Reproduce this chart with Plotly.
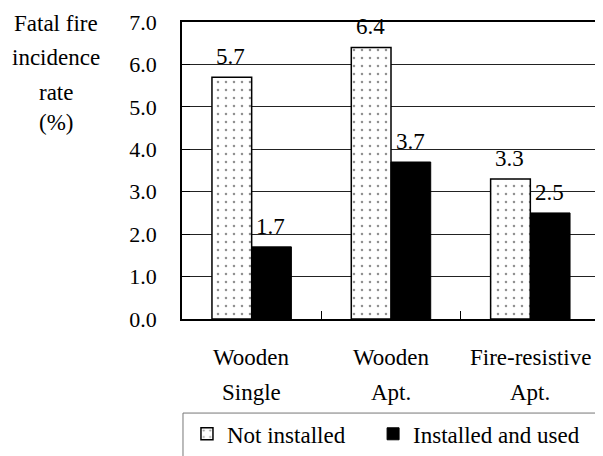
import plotly.graph_objects as go

# Data
categories = ["Wooden<br>Single", "Wooden<br>Apt.", "Fire-resistive<br>Apt."]
not_installed = [5.7, 6.4, 3.3]
installed_used = [1.7, 3.7, 2.5]

FONT = "'Liberation Serif', 'Times New Roman', Times, serif"
# the page body has an 8px margin, so the figure is drawn 8px in from the window corner
OFF = 8
W, H = 603 - OFF, 456 - OFF
L, R, T, B = 182 - OFF, 1, 22 - OFF, 456 - 322
plot_w = W - L - R
plot_h = H - T - B


def px_x(x):
    # window pixel -> paper fraction
    return (x - OFF - L) / plot_w


def px_y(y):
    return (H - B - (y - OFF)) / plot_h


fig = go.Figure()

fig.add_trace(go.Bar(
    x=categories,
    y=not_installed,
    name="Not installed",
    legend="legend",
    marker=dict(
        color="white",
        line=dict(color="black", width=1.5),
        pattern=dict(shape=".", fgcolor="#222222", bgcolor="white",
                     size=8, solidity=0.08),
    ),
))

fig.add_trace(go.Bar(
    x=categories,
    y=installed_used,
    name="Installed and used",
    legend="legend2",
    marker=dict(color="black", line=dict(color="black", width=1)),
))

annotations = []

# value labels above the bars (left bar of each group is shifted left, right bar right)
for values, shift in ((not_installed, -21), (installed_used, 19)):
    for cat, v in zip(categories, values):
        annotations.append(dict(
            text=f"{v:.1f}", xref="x", yref="y", x=cat, y=v,
            xshift=shift, yshift=6, xanchor="center", yanchor="bottom",
            showarrow=False, font=dict(family=FONT, size=23, color="black"),
        ))

# y axis title, one line per annotation
ytitle_lines = ["Fatal fire", "incidence", "rate", "(%)"]
ytitle_pix = [24, 58, 93, 124]
for line, yp in zip(ytitle_lines, ytitle_pix):
    annotations.append(dict(
        text=line, xref="paper", yref="paper", x=px_x(55), y=px_y(yp),
        xanchor="center", yanchor="middle", showarrow=False,
        font=dict(family=FONT, size=23, color="black"),
    ))

# category labels (two lines each)
for cat in categories:
    for i, part in enumerate(cat.split("<br>")):
        annotations.append(dict(
            text=part, xref="x", yref="paper", x=cat, y=px_y(361 + 35 * i),
            xanchor="center", yanchor="middle", showarrow=False,
            font=dict(family=FONT, size=23, color="black"),
        ))

legend_style = dict(
    orientation="h", xanchor="left", yanchor="middle", y=px_y(438),
    font=dict(family=FONT, size=23, color="black"),
    bgcolor="rgba(0,0,0,0)", borderwidth=0,
)

fig.update_layout(
    width=W, height=H, autosize=False,
    margin=dict(l=L, r=R, t=T, b=B, pad=0),
    paper_bgcolor="white", plot_bgcolor="white",
    font=dict(family=FONT, size=23, color="black"),
    barmode="group", bargap=0.43, bargroupgap=0,
    showlegend=True,
    legend=dict(x=px_x(187), **legend_style),
    legend2=dict(x=px_x(374), **legend_style),
    annotations=annotations,
    shapes=[dict(
        type="rect", xref="paper", yref="paper",
        x0=px_x(183), x1=px_x(615), y0=px_y(417), y1=px_y(470),
        line=dict(color="#777777", width=1), fillcolor="rgba(0,0,0,0)",
        layer="below",
    )],
)

fig.update_xaxes(
    showticklabels=False, showline=True, linecolor="black", linewidth=1.5,
    mirror=True, ticks="inside", ticklen=8, tickcolor="black",
    tickson="boundaries", showgrid=False,
)
fig.update_yaxes(
    range=[0, 7], dtick=1, tickformat=".1f", showline=True, linecolor="black",
    linewidth=1.5, mirror=True, showgrid=True, gridcolor="#222222", gridwidth=1,
    ticks="inside", ticklen=8, tickcolor="black", ticklabelstandoff=19,
    zeroline=False, tickfont=dict(family=FONT, size=22, color="black"),
)

fig.write_html("out.html")
